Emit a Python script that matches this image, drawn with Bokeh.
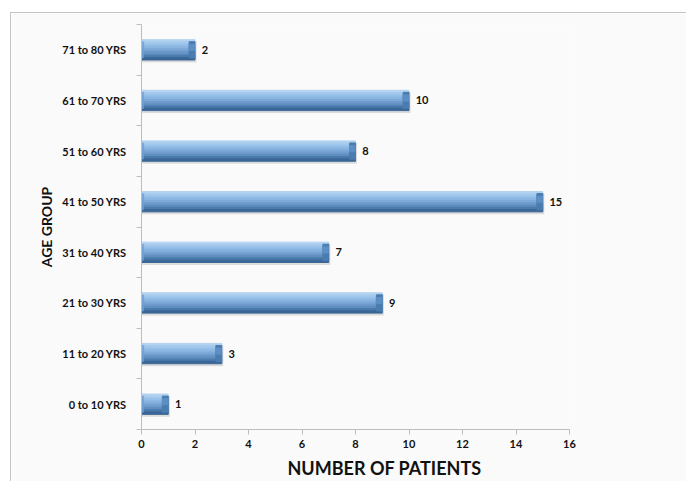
import numpy as np
from bokeh.plotting import figure
from bokeh.models import Range1d, FixedTicker, ColumnDataSource, Title
from bokeh.core.properties import value
from bokeh.embed import file_html
from bokeh.resources import INLINE

groups = ["0 to 10 YRS", "11 to 20 YRS", "21 to 30 YRS", "31 to 40 YRS",
          "41 to 50 YRS", "51 to 60 YRS", "61 to 70 YRS", "71 to 80 YRS"]
patients = [1, 3, 9, 7, 15, 8, 10, 2]
x_ticks = [0, 2, 4, 6, 8, 10, 12, 14, 16]
x_title = "NUMBER OF PATIENTS"
y_title = "AGE GROUP"

FONT = "Lato"
y = np.arange(len(groups)) + 0.5
vals = np.array(patients, dtype=float)

p = figure(width=676, height=469, output_backend="svg", toolbar_location=None,
           x_range=Range1d(0, 16), y_range=Range1d(0, 8),
           min_border_left=130, min_border_right=118, min_border_top=11, min_border_bottom=0,
           background_fill_color="#fafafa", border_fill_color="#fafafa",
           margin=(12, 0, 0, 10),
           styles={"border-left": "1px solid #c4c4c4", "border-top": "1px solid #c4c4c4"})
p.outline_line_color = None
p.grid.visible = False

H = 0.4
# shadow
p.hbar(y=y - 0.04, left=0.03, right=vals + 0.04, height=H, color="#d3d3d3", alpha=0.7)
# vertical gradient strips (top -> bottom)
grad = ["#b4d3f0", "#a5caed", "#97c0e8", "#89b5e1", "#7ca9d8", "#6e9bcb", "#5f8ec1", "#4a79ab", "#3a6697"]
n = len(grad)
for i, c in enumerate(grad):
    off = H / 2 - (i + 0.5) * H / n
    p.hbar(y=y + off, left=0, right=vals, height=H / n + 0.002, color=c)
# right end bevel (darker cap)
p.hbar(y=y, left=vals - 0.22, right=vals, height=H * 0.8, color="#4b7cb0")
p.hbar(y=y + H * 0.12, left=vals - 0.22, right=vals - 0.02, height=H * 0.3, color="#5d8fc4")
# left bevel
p.hbar(y=y, left=0, right=0.08, height=H * 0.78, color="#6e9fd2", alpha=0.7)

# value labels
src = ColumnDataSource(dict(x=vals + 0.25, y=y, t=[str(v) for v in patients]))
p.text(x="x", y="y", text="t", source=src, text_font=value(FONT), text_font_style="bold",
       text_font_size="11px", text_color="#111111", text_baseline="middle", text_align="left")

# x axis
xa = p.xaxis[0]
xa.ticker = FixedTicker(ticks=x_ticks, minor_ticks=[])
xa.axis_line_color = "#bdbdbd"
xa.major_tick_line_color = "#bdbdbd"
xa.major_tick_out = 5
xa.major_tick_in = 0
xa.minor_tick_line_color = None
xa.major_label_text_font = FONT
xa.major_label_text_font_style = "bold"
xa.major_label_text_font_size = "11px"
xa.major_label_text_color = "#111111"
xa.major_label_standoff = 5

# x title, placed off-centre as in the reference
p.add_layout(Title(text=x_title, align="left", offset=146, standoff=8,
                   text_font=FONT, text_font_style="bold", text_font_size="18px",
                   text_color="#111111"), "below")

# y axis
ya = p.yaxis[0]
ya.ticker = FixedTicker(ticks=list(y), minor_ticks=list(range(len(groups) + 1)))
ya.major_label_overrides = {float(v): g for v, g in zip(y, groups)}
ya.axis_line_color = "#bdbdbd"
ya.major_tick_line_color = None
ya.major_tick_out = 0
ya.major_tick_in = 0
ya.minor_tick_line_color = "#bdbdbd"
ya.minor_tick_out = 5
ya.minor_tick_in = 0
ya.major_label_text_font = FONT
ya.major_label_text_font_style = "bold"
ya.major_label_text_font_size = "11px"
ya.major_label_text_color = "#111111"
ya.major_label_standoff = 10
ya.axis_label = y_title
ya.axis_label_text_font = FONT
ya.axis_label_text_font_style = "bold"
ya.axis_label_text_font_size = "14px"
ya.axis_label_text_color = "#111111"
ya.axis_label_standoff = 4

open("out.html", "w").write(file_html(p, INLINE))
